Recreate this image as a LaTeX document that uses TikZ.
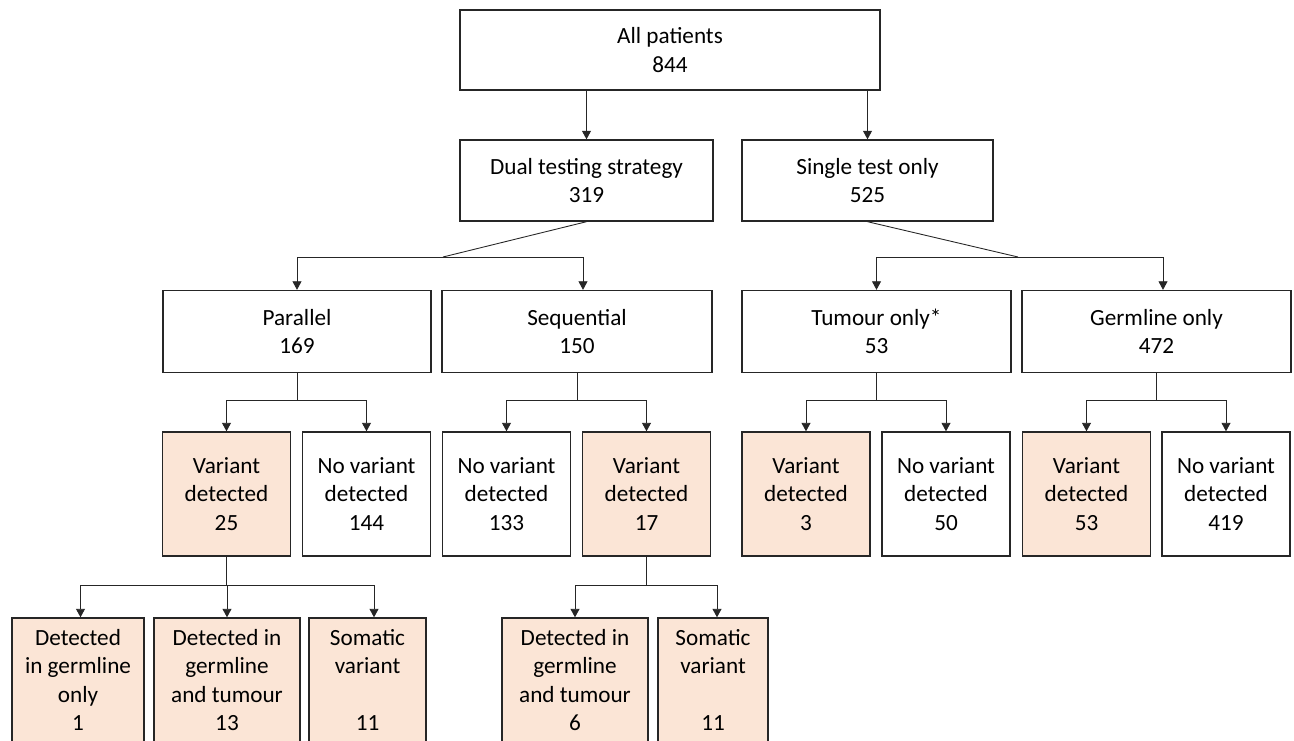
\documentclass[tikz,border=0pt]{standalone}
\usepackage{fontspec}
\setmainfont{Carlito}
\usetikzlibrary{arrows.meta, positioning}
\definecolor{found}{RGB}{251,229,214}
\definecolor{edge}{RGB}{38,38,38}

\begin{document}
\begin{tikzpicture}[
    x=0.02cm, y=-0.02cm,
    font=\fontsize{13.2}{16.2}\selectfont,
    box/.style={rectangle, draw=edge, line width=0.8pt, fill=white, align=center, inner sep=2pt},
    group/.style={box, minimum width=5.36cm, minimum height=1.64cm},
    result/.style={box, minimum width=2.56cm, minimum height=2.48cm},
    hit/.style={result, fill=found},
    line/.style={edge, line width=0.5pt},
    arr/.style={-{Triangle[length=1.7mm, width=1.8mm]}, line},
]
\clip (0,0) rectangle (1294,740);

% top levels
\node[box, minimum width=8.4cm, minimum height=1.6cm] (all) at (670,50) {All patients\\844};
\node[box, minimum width=5.06cm, minimum height=1.62cm] (dual) at (586.5,180.5) {Dual testing strategy\\319};
\node[box, minimum width=5.02cm, minimum height=1.62cm] (single) at (867.5,180.5) {Single test only\\525};

\node[group] (par) at (297,331.5) {Parallel\\169};
\node[group, minimum width=5.4cm] (seq) at (577,331.5) {Sequential\\150};
\node[group, minimum width=5.38cm] (tum) at (876.5,331.5) {Tumour only*\\53};
\node[group, minimum width=5.38cm] (germ) at (1156.5,331.5) {Germline only\\472};

% results
\node[hit] (pvar) at (226.5,494) {Variant\\detected\\25};
\node[result] (pnovar) at (366.5,494) {No variant\\detected\\144};
\node[result] (snovar) at (506.5,494) {No variant\\detected\\133};
\node[hit] (svar) at (646.5,494) {Variant\\detected\\17};
\node[hit] (tvar) at (806,494) {Variant\\detected\\3};
\node[result] (tnovar) at (946,494) {No variant\\detected\\50};
\node[hit] (gvar) at (1086.5,494) {Variant\\detected\\53};
\node[result] (gnovar) at (1226,494) {No variant\\detected\\419};

% variant origin
\node[hit, minimum width=2.64cm] (pgerm) at (78,680) {Detected\\in germline\\only\\1};
\node[hit, minimum width=2.92cm] (pboth) at (227,680) {Detected in\\germline\\and tumour\\13};
\node[hit, minimum width=2.34cm] (psom) at (367.5,680) {Somatic\\variant\\\mbox{}\\11};
\node[hit, minimum width=2.92cm] (sboth) at (575,680) {Detected in\\germline\\and tumour\\6};
\node[hit, minimum width=2.2cm] (ssom) at (713,680) {Somatic\\variant\\\mbox{}\\11};

\coordinate (dualfork) at (443,257);
\coordinate (singlefork) at (1018,257);
\coordinate (parfork) at (297,400);
\coordinate (seqfork) at (577,400);
\coordinate (tumfork) at (876.5,400);
\coordinate (germfork) at (1156.5,400);
\coordinate (pvarfork) at (226.5,585);
\coordinate (svarfork) at (646.5,585);

\draw[arr] (all.south -| dual) -- (dual);
\draw[arr] (all.south -| single) -- (single);

\draw[line] (dual.south) -- (dualfork);
\draw[arr] (dualfork) -| (par.north);
\draw[arr] (dualfork) -| ([xshift=0.12cm]seq.north);
\draw[line] (single.south) -- (singlefork);
\draw[arr] (singlefork) -| (tum.north);
\draw[arr] (singlefork) -| ([xshift=0.13cm]germ.north);

\draw[line] (par.south) -- (parfork);
\draw[arr] (parfork) -| (pvar.north);
\draw[arr] (parfork) -| (pnovar.north);
\draw[line] (seq.south) -- (seqfork);
\draw[arr] (seqfork) -| (snovar.north);
\draw[arr] (seqfork) -| (svar.north);
\draw[line] (tum.south) -- (tumfork);
\draw[arr] (tumfork) -| (tvar.north);
\draw[arr] (tumfork) -| (tnovar.north);
\draw[line] (germ.south) -- (germfork);
\draw[arr] (germfork) -| (gvar.north);
\draw[arr] (germfork) -| (gnovar.north);

\draw[line] (pvar.south) -- (pvarfork);
\draw[arr] (pvarfork) -| ([xshift=0.05cm]pgerm.north);
\draw[arr] (pvarfork) -| (pboth.north);
\draw[arr] (pvarfork) -| ([xshift=0.13cm]psom.north);
\draw[line] (svar.south) -- (svarfork);
\draw[arr] (svarfork) -| (sboth.north);
\draw[arr] (svarfork) -| ([xshift=0.08cm]ssom.north);

\end{tikzpicture}
\end{document}
